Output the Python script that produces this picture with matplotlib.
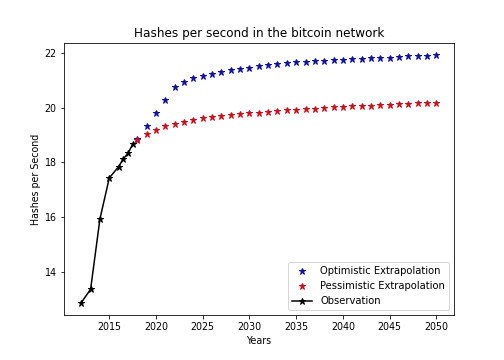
import matplotlib
matplotlib.use("Agg")
import matplotlib.pyplot as plt

# Observed data
obs_years = [2012, 2013, 2014, 2015, 2016, 2016.5, 2017, 2017.5]
obs_values = [12.86, 13.35, 15.93, 17.43, 17.84, 18.13, 18.33, 18.66]

# Extrapolations (yearly, 2018 - 2050)
ext_years = list(range(2018, 2051))
optimistic = [18.84, 19.33, 19.79, 20.28, 20.75, 20.94, 21.09, 21.17, 21.25, 21.31,
              21.38, 21.43, 21.47, 21.52, 21.56, 21.60, 21.63, 21.66, 21.68, 21.70,
              21.72, 21.74, 21.76, 21.77, 21.79, 21.81, 21.83, 21.84, 21.86, 21.88,
              21.89, 21.90, 21.92]
pessimistic = [18.83, 19.05, 19.20, 19.32, 19.40, 19.47, 19.55, 19.61, 19.65, 19.70,
               19.73, 19.77, 19.80, 19.82, 19.86, 19.89, 19.91, 19.93, 19.95, 19.97,
               19.99, 20.01, 20.03, 20.05, 20.07, 20.08, 20.10, 20.11, 20.13, 20.14,
               20.16, 20.17, 20.19]

plt.rcParams.update({
    "font.size": 9.5,
    "axes.titlesize": 12,
    "axes.labelsize": 9.5,
    "xtick.labelsize": 9.5,
    "ytick.labelsize": 9.5,
    "legend.fontsize": 10,
})

fig, ax = plt.subplots(figsize=(7, 5), dpi=72)
fig.subplots_adjust(left=0.126, right=0.901, top=0.8806, bottom=0.125)

ax.plot(ext_years, optimistic, "*", color="#1010a0", markersize=7,
        label="Optimistic Extrapolation")
ax.plot(ext_years, pessimistic, "*", color="#c8101e", markersize=7,
        label="Pessimistic Extrapolation")
ax.plot(obs_years, obs_values, "k*-", markersize=7, linewidth=1.5,
        label="Observation")

ax.set_title("Hashes per second in the bitcoin network")
ax.set_xlabel("Years")
ax.set_ylabel("Hashes per Second")
ax.legend(loc="lower right")

fig.savefig("out.png", dpi=72)
